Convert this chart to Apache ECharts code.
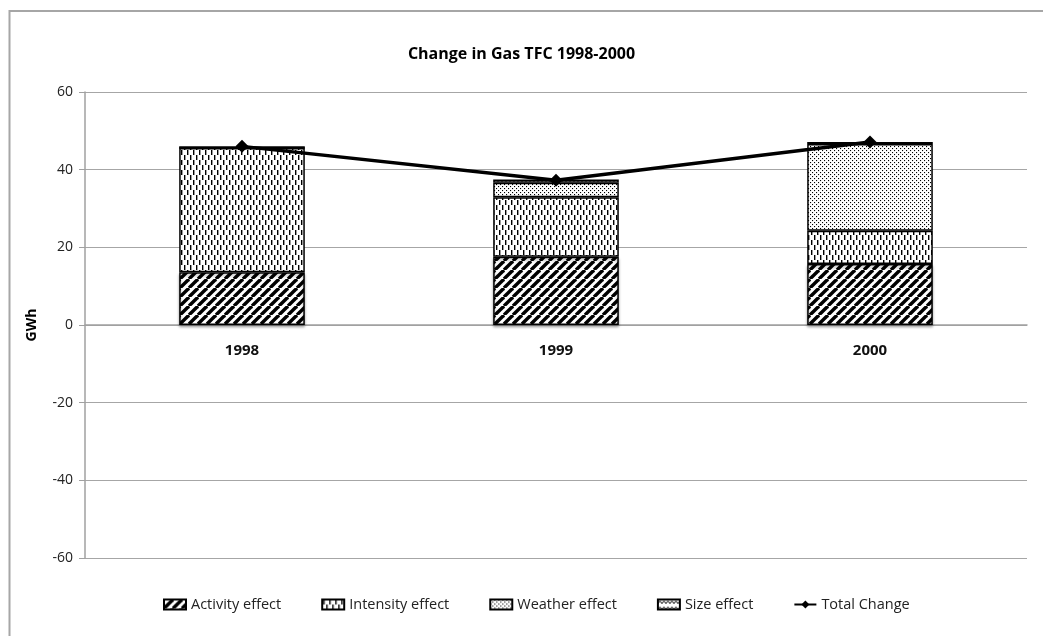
<!DOCTYPE html>
<html>
<head>
<meta charset="utf-8">
<script src="https://cdn.jsdelivr.net/npm/echarts@6/dist/echarts.min.js"></script>
<style>
  html, body { margin: 0; padding: 0; background: #fff; }
  #chart { width: 1043px; height: 636px; }
</style>
</head>
<body>
<div id="chart"></div>
<script>
const years = ['1998', '1999', '2000']
const activityEffect = [13.6, 17.6, 15.7]
const intensityEffect = [32.0, 15.3, 8.6]
const weatherEffect = [0, 3.7, 22.3]
const sizeEffect = [0.4, 0.9, 0.5]
const totalChange = [46.0, 37.3, 47.1]
const yTicks = [-60, -40, -20, 0, 20, 40, 60]

// small canvas tiles for the hatch fills
function tile(w, h, draw) {
  const c = document.createElement('canvas')
  c.width = w
  c.height = h
  const ctx = c.getContext('2d')
  ctx.fillStyle = '#fff'
  ctx.fillRect(0, 0, w, h)
  ctx.strokeStyle = '#000'
  ctx.fillStyle = '#000'
  draw(ctx)
  return { image: c, repeat: 'repeat' }
}

const stripes = tile(9, 9, function (ctx) {
  ctx.lineWidth = 3.4
  ;[-9, 0, 9].forEach(function (k) {
    ctx.beginPath()
    ctx.moveTo(k, 9)
    ctx.lineTo(k + 9, 0)
    ctx.stroke()
  })
})

const dashes = tile(6, 10, function (ctx) {
  ctx.fillRect(1, 0, 1.4, 5)
  ctx.fillRect(4, 5, 1.4, 5)
})

const dots = tile(4, 4, function (ctx) {
  ctx.fillRect(0, 0, 1.1, 1.1)
  ctx.fillRect(2, 2, 1.1, 1.1)
})

const waves = tile(8, 6, function (ctx) {
  ctx.lineWidth = 1
  ctx.beginPath()
  ctx.moveTo(0, 4)
  ctx.lineTo(2, 1.5)
  ctx.lineTo(4, 4)
  ctx.lineTo(6, 1.5)
  ctx.lineTo(8, 4)
  ctx.stroke()
})

const barBorder = { borderColor: '#000', borderWidth: 1.5 }

// grid box
const gridTop = 92
const gridBottom = 78
const gridHeight = 636 - gridTop - gridBottom
const yMin = yTicks[0]
const yMax = yTicks[yTicks.length - 1]
// category axis sits on the zero line
const zeroOffset = -gridHeight * (0 - yMin) / (yMax - yMin)

const chart = echarts.init(document.getElementById('chart'))
chart.setOption({
  animation: false,
  textStyle: { fontFamily: 'Open Sans', color: '#222' },

  title: {
    text: 'Change in Gas TFC 1998-2000',
    left: 'center',
    top: 41,
    textStyle: { fontSize: 16, fontWeight: 'bold', color: '#000', fontFamily: 'Open Sans' }
  },

  graphic: [{
    type: 'rect',
    shape: { x: 9.5, y: 11, width: 1100, height: 700 },
    style: { fill: 'none', stroke: '#a6a6a6', lineWidth: 2 },
    silent: true
  }],

  legend: {
    bottom: 19,
    left: 158,
    itemWidth: 22,
    itemHeight: 10,
    itemGap: 40,
    textStyle: { fontSize: 14.5, color: '#222', fontFamily: 'Open Sans' },
    data: [
      { name: 'Activity effect', icon: 'rect' },
      { name: 'Intensity effect', icon: 'rect' },
      { name: 'Weather effect', icon: 'rect' },
      { name: 'Size effect', icon: 'rect' },
      { name: 'Total Change' }
    ]
  },

  grid: { left: 85, right: 16, top: gridTop, bottom: gridBottom, containLabel: false },

  xAxis: {
    type: 'category',
    data: years,
    offset: zeroOffset,
    axisLine: { onZero: false, lineStyle: { color: '#a0a0a0', width: 1.5 } },
    axisTick: { show: false },
    axisLabel: { fontSize: 15, fontWeight: 'bold', color: '#111', margin: 18 }
  },

  yAxis: {
    type: 'value',
    min: yMin,
    max: yMax,
    interval: 20,
    name: 'GWh',
    nameLocation: 'middle',
    nameGap: 46,
    nameTextStyle: { fontSize: 14, fontWeight: 'bold', color: '#000' },
    axisLine: { show: true, lineStyle: { color: '#a0a0a0', width: 1.5 } },
    axisTick: { show: true, length: 6, lineStyle: { color: '#a0a0a0' } },
    axisLabel: { fontSize: 14, color: '#222', margin: 12 },
    splitLine: { lineStyle: { color: '#a6a6a6', width: 1 } }
  },

  series: [
    {
      name: 'Activity effect',
      type: 'bar',
      stack: 'effects',
      barWidth: '40%',
      data: activityEffect,
      itemStyle: Object.assign({ color: stripes, shadowColor: 'rgba(0,0,0,0.35)', shadowBlur: 3, shadowOffsetY: 2 }, barBorder)
    },
    {
      name: 'Intensity effect',
      type: 'bar',
      stack: 'effects',
      data: intensityEffect,
      itemStyle: Object.assign({ color: dashes }, barBorder)
    },
    {
      name: 'Weather effect',
      type: 'bar',
      stack: 'effects',
      data: weatherEffect,
      itemStyle: Object.assign({ color: dots }, barBorder)
    },
    {
      name: 'Size effect',
      type: 'bar',
      stack: 'effects',
      data: sizeEffect,
      itemStyle: Object.assign({ color: waves }, barBorder)
    },
    {
      name: 'Total Change',
      type: 'line',
      data: totalChange,
      symbol: 'diamond',
      symbolSize: 13,
      lineStyle: { color: '#000', width: 3.5 },
      itemStyle: { color: '#000' },
      z: 5
    }
  ]
})
</script>
</body>
</html>
